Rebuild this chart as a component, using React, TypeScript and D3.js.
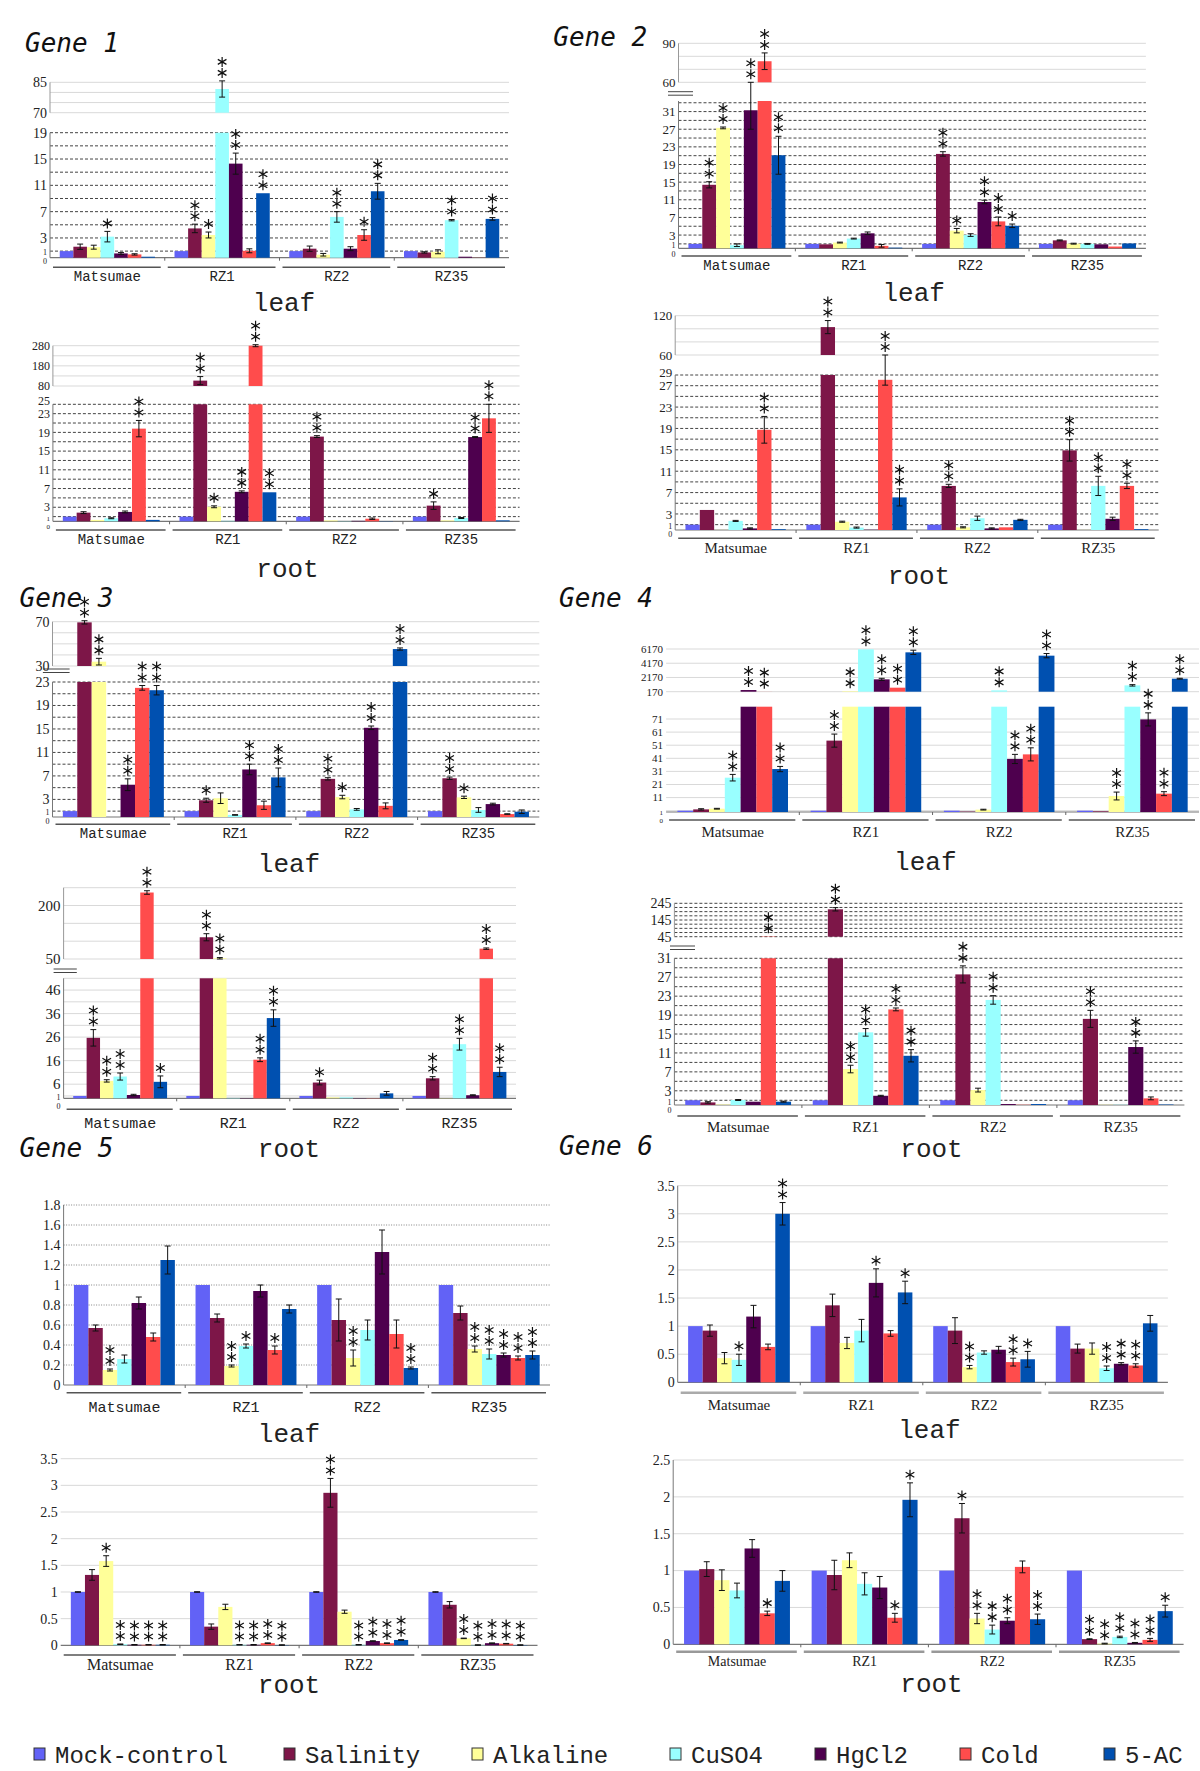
import React from 'react';
import * as d3 from 'd3';

const groups = ['Matsumae', 'RZ1', 'RZ2', 'RZ35'];
const treatments = ['Mock-control', 'Salinity', 'Alkaline', 'CuSO4', 'HgCl2', 'Cold', '5-AC'];
const colors = ['#6262F6', '#7D1648', '#FFFF99', '#99FFFF', '#4E004E', '#FF4C4C', '#0050B0'];

// ---- Gene 1 ----
const g1LeafMean = [
  [1, 1.67, 1.6, 3.2, 0.65, 0.5, 0.15],
  [1, 4.45, 3.45, 81.7, 14.3, 1.05, 9.8],
  [1, 1.37, 0.45, 6.2, 1.37, 3.45, 10.1],
  [1, 0.8, 0.9, 5.7, 0.15, 0.02, 5.9],
];
const g1LeafErr = [
  [0, 0.4, 0.3, 0.8, 0.15, 0.1, 0],
  [0, 0.65, 0.45, 4, 1.6, 0.3, 0],
  [0, 0.4, 0.2, 0.8, 0.3, 0.8, 1.2],
  [0, 0.1, 0.3, 0.1, 0, 0, 0.2],
];
const g1LeafSig = [
  [0, 0, 0, 1, 0, 0, 0],
  [0, 2, 1, 2, 2, 0, 2],
  [0, 0, 0, 2, 0, 1, 2],
  [0, 0, 0, 2, 0, 0, 2],
];
const g1RootMean = [
  [1, 1.85, 0.3, 0.65, 2.0, 19.8, 0.3],
  [1, 106.7, 3.1, 0.1, 6.3, 280, 6.2],
  [1, 18.1, 0.2, 0.05, 0.1, 0.55, 0.05],
  [1, 3.35, 0.2, 0.7, 18.0, 22.0, 0.2],
];
const g1RootErr = [
  [0, 0.2, 0, 0.1, 0.2, 1.75, 0],
  [0, 20, 0.2, 0, 0.2, 5, 0],
  [0, 0.2, 0, 0, 0, 0.15, 0],
  [0, 0.8, 0, 0.1, 0.1, 3, 0],
];
const g1RootSig = [
  [0, 0, 0, 0, 0, 2, 0],
  [0, 2, 1, 0, 2, 2, 2],
  [0, 2, 0, 0, 0, 0, 0],
  [0, 1, 0, 0, 2, 2, 0],
];

// ---- Gene 2 ----
const g2LeafMean = [
  [1, 14.4, 27.3, 0.7, 31.3, 76.2, 21.1],
  [1, 0.9, 1.3, 2.2, 3.4, 0.55, 0.15],
  [1, 21.4, 4.0, 3.0, 10.5, 6.1, 5.1],
  [1, 1.8, 1.05, 1.0, 0.9, 0.4, 1.1],
];
const g2LeafErr = [
  [0, 0.7, 0.2, 0.3, 4.3, 6.4, 4.3],
  [0, 0, 0.1, 0.1, 0.3, 0.3, 0],
  [0, 0.5, 0.5, 0.3, 0.4, 1.0, 0.4],
  [0, 0.1, 0.1, 0.1, 0, 0, 0],
];
const g2LeafSig = [
  [0, 2, 2, 0, 2, 2, 2],
  [0, 0, 0, 0, 0, 0, 0],
  [0, 2, 1, 0, 2, 2, 1],
  [0, 0, 0, 0, 0, 0, 0],
];
const g2RootMean = [
  [1, 3.75, 0.02, 1.7, 0.3, 18.75, 0.15],
  [1, 102.6, 1.55, 0.45, 0.05, 28.1, 6.1],
  [1, 8.25, 0.5, 2.2, 0.3, 0.5, 1.9],
  [1, 14.9, 0.02, 8.25, 2.1, 8.25, 0.15],
];
const g2RootErr = [
  [0, 0, 0, 0.1, 0.1, 2.5, 0],
  [0, 10, 0.1, 0.1, 0, 1.0, 1.6],
  [0, 0.3, 0.1, 0.4, 0.1, 0, 0.1],
  [0, 2, 0, 1.8, 0.3, 0.5, 0],
];
const g2RootSig = [
  [0, 0, 0, 0, 0, 2, 0],
  [0, 2, 0, 0, 0, 2, 2],
  [0, 2, 0, 0, 0, 0, 0],
  [0, 2, 0, 2, 0, 2, 0],
];

// ---- Gene 3 ----
const g3LeafMean = [
  [1, 69.4, 33.9, 0, 5.5, 22.0, 21.6],
  [1, 2.85, 3.2, 0.35, 8.1, 2.0, 6.75],
  [1, 6.5, 3.4, 1.3, 15.2, 1.9, 45.3],
  [1, 6.6, 3.35, 1.2, 2.2, 0.5, 0.9],
];
const g3LeafErr = [
  [0, 1.5, 3, 0, 1.0, 0.4, 0.8],
  [0, 0.35, 0.9, 0.05, 0.9, 0.7, 1.6],
  [0, 0.2, 0.3, 0.15, 0.3, 0.5, 1.0],
  [0, 0.2, 0.2, 0.4, 0.15, 0.05, 0.3],
];
const g3LeafSig = [
  [0, 2, 2, 0, 2, 2, 2],
  [0, 1, 0, 0, 2, 0, 2],
  [0, 2, 1, 0, 2, 0, 2],
  [0, 2, 1, 0, 0, 0, 0],
];
const g3RootMean = [
  [1, 25.7, 7.4, 9.25, 1.4, 236.5, 7.0],
  [1, 111, 52, 0.15, 0.1, 16.4, 34.1],
  [1, 6.7, 0.4, 0.4, 0.1, 0.1, 2.1],
  [1, 8.5, 0.1, 23, 1.3, 79, 11.2],
];
const g3RootErr = [
  [0, 3.5, 0.5, 1.5, 0.3, 5, 2.5],
  [0, 10, 2, 0, 0, 0.8, 3.5],
  [0, 1.0, 0, 0, 0, 0, 0.8],
  [0, 0.7, 0, 2.5, 0.2, 2, 2],
];
const g3RootSig = [
  [0, 2, 2, 2, 0, 2, 1],
  [0, 2, 2, 0, 0, 2, 2],
  [0, 1, 0, 0, 0, 0, 0],
  [0, 2, 0, 2, 0, 2, 2],
];

// ---- Gene 4 ----
const g4LeafMean = [
  [1, 2.0, 2.5, 26.2, 404, 180, 32.8],
  [1, 54.5, 250, 6124, 1905, 733, 5700],
  [1, 0.3, 1.8, 357, 40.5, 44, 5233],
  [1, 0.5, 12.2, 1060, 70.7, 14, 1998],
];
const g4LeafErr = [
  [0, 0.5, 0.3, 2.5, 0, 0, 2],
  [0, 5, 0, 0, 150, 0, 300],
  [0, 0, 0.3, 0, 3.5, 5, 300],
  [0, 0, 3, 100, 5, 1.5, 60],
];
const g4LeafSig = [
  [0, 0, 0, 2, 2, 2, 2],
  [0, 2, 2, 2, 2, 2, 2],
  [0, 0, 0, 2, 2, 2, 2],
  [0, 0, 2, 2, 2, 2, 2],
];
const g4RootMean = [
  [1, 0.55, 0.1, 1.05, 0.7, 47, 0.7],
  [1, 209, 7.6, 15.35, 1.95, 20.2, 10.4],
  [1, 27.6, 3.15, 22.2, 0.2, 0.05, 0.2],
  [1, 18.2, 0.05, 0.05, 12.25, 1.4, 0.1],
];
const g4RootErr = [
  [0, 0.15, 0, 0.1, 0, 0, 0.1],
  [0, 10, 0.8, 0.8, 0.1, 0.3, 1.3],
  [0, 1.8, 0.4, 0.9, 0, 0, 0],
  [0, 1.8, 0, 0, 1.3, 0.3, 0],
];
const g4RootSig = [
  [0, 0, 0, 0, 0, 2, 0],
  [0, 2, 2, 2, 0, 2, 2],
  [0, 2, 0, 2, 0, 0, 0],
  [0, 2, 0, 0, 2, 0, 0],
];

// ---- Gene 5 ----
const g5LeafMean = [
  [1, 0.57, 0.15, 0.26, 0.82, 0.48, 1.25],
  [1, 0.67, 0.19, 0.39, 0.94, 0.35, 0.76],
  [1, 0.65, 0.27, 0.55, 1.33, 0.51, 0.17],
  [1, 0.72, 0.36, 0.31, 0.3, 0.27, 0.3],
];
const g5LeafErr = [
  [0, 0.03, 0.01, 0.04, 0.06, 0.04, 0.14],
  [0, 0.04, 0.01, 0.02, 0.06, 0.04, 0.04],
  [0, 0.21, 0.08, 0.1, 0.22, 0.14, 0.01],
  [0, 0.07, 0.03, 0.05, 0.02, 0.02, 0.04],
];
const g5LeafSig = [
  [0, 0, 2, 0, 0, 0, 0],
  [0, 0, 2, 1, 0, 1, 0],
  [0, 0, 2, 0, 0, 0, 2],
  [0, 0, 2, 2, 2, 2, 2],
];
const g5RootMean = [
  [1, 1.32, 1.58, 0.02, 0.01, 0.01, 0.01],
  [1, 0.35, 0.72, 0.01, 0.01, 0.04, 0.005],
  [1, 2.86, 0.63, 0.01, 0.08, 0.04, 0.1],
  [1, 0.76, 0.13, 0.005, 0.04, 0.03, 0.005],
];
const g5RootErr = [
  [0.005, 0.1, 0.1, 0.005, 0.005, 0.005, 0.005],
  [0.005, 0.05, 0.05, 0.005, 0.005, 0.005, 0.005],
  [0.005, 0.27, 0.03, 0.005, 0.005, 0.005, 0.005],
  [0.005, 0.06, 0.005, 0.005, 0.005, 0.005, 0.005],
];
const g5RootSig = [
  [0, 0, 1, 2, 2, 2, 2],
  [0, 0, 0, 2, 2, 2, 2],
  [0, 2, 0, 2, 2, 2, 2],
  [0, 0, 2, 2, 2, 2, 2],
];

// ---- Gene 6 ----
const g6LeafMean = [
  [1, 0.92, 0.43, 0.4, 1.17, 0.63, 3.0],
  [1, 1.37, 0.7, 0.92, 1.77, 0.87, 1.6],
  [1, 0.92, 0.27, 0.53, 0.58, 0.36, 0.41],
  [1, 0.6, 0.6, 0.25, 0.33, 0.3, 1.05],
];
const g6LeafErr = [
  [0, 0.1, 0.1, 0.1, 0.2, 0.05, 0.2],
  [0, 0.2, 0.1, 0.2, 0.25, 0.05, 0.2],
  [0, 0.23, 0.03, 0.03, 0.06, 0.07, 0.14],
  [0, 0.08, 0.1, 0.04, 0.02, 0.03, 0.14],
];
const g6LeafSig = [
  [0, 0, 0, 1, 0, 0, 2],
  [0, 0, 0, 0, 1, 0, 1],
  [0, 0, 2, 0, 0, 2, 1],
  [0, 0, 0, 2, 2, 2, 0],
];
const g6RootMean = [
  [1, 1.02, 0.87, 0.73, 1.3, 0.42, 0.86],
  [1, 0.94, 1.14, 0.82, 0.77, 0.36, 1.96],
  [1, 1.71, 0.35, 0.2, 0.32, 1.05, 0.34],
  [1, 0.07, 0.01, 0.1, 0.02, 0.06, 0.45],
];
const g6RootErr = [
  [0, 0.1, 0.14, 0.1, 0.12, 0.03, 0.14],
  [0, 0.2, 0.1, 0.15, 0.15, 0.06, 0.23],
  [0, 0.2, 0.07, 0.06, 0.04, 0.08, 0.07],
  [0, 0.005, 0.005, 0.01, 0.005, 0.02, 0.08],
];
const g6RootSig = [
  [0, 0, 0, 0, 0, 1, 0],
  [0, 0, 0, 0, 0, 1, 1],
  [0, 1, 2, 2, 2, 0, 2],
  [0, 2, 2, 2, 2, 2, 1],
];

// ---- axis ticks / grid values ----
const g1LeafTicks = [0, 1, 3, 7, 11, 15, 19];
const g1LeafGrid = [1, 3, 5, 7, 9, 11, 13, 15, 17, 19];
const g1LeafUpTicks = [70, 85];
const g1LeafUpGrid = [70, 75, 80, 85];
const g1RootTicks = [0, 1, 3, 7, 11, 15, 19, 23, 25];
const g1RootGrid = [1, 3, 5, 7, 9, 11, 13, 15, 17, 19, 21, 23, 25];
const g1RootUpTicks = [80, 180, 280];
const g1RootUpGrid = [80, 130, 180, 230, 280];
const g2LeafTicks = [0, 1, 3, 7, 11, 15, 19, 23, 27, 31];
const g2LeafGrid = [1, 3, 5, 7, 9, 11, 13, 15, 17, 19, 21, 23, 25, 27, 29, 31, 33];
const g2LeafUpTicks = [60, 90];
const g2LeafUpGrid = [60, 70, 80, 90];
const g2RootTicks = [0, 1, 3, 7, 11, 15, 19, 23, 27, 29];
const g2RootGrid = [1, 3, 5, 7, 9, 11, 13, 15, 17, 19, 21, 23, 25, 27, 29];
const g2RootUpTicks = [60, 120];
const g2RootUpGrid = [60, 80, 100, 120];
const g3LeafTicks = [0, 1, 3, 7, 11, 15, 19, 23];
const g3LeafGrid = [1, 3, 5, 7, 9, 11, 13, 15, 17, 19, 21, 23];
const g3LeafUpTicks = [30, 70];
const g3LeafUpGrid = [30, 40, 50, 60, 70];
const g3RootTicks = [0, 1, 6, 16, 26, 36, 46];
const g3RootGrid = [1, 6, 11, 16, 21, 26, 31, 36, 41, 46, 51];
const g3RootUpTicks = [50, 200];
const g3RootUpGrid = [50, 100, 150, 200, 250];
const g4LeafTicks = [0, 1, 11, 21, 31, 41, 51, 61, 71];
const g4LeafGrid = [1, 11, 21, 31, 41, 51, 61, 71];
const g4LeafUpTicks = [170, 2170, 4170, 6170];
const g4LeafUpGrid = [170, 2170, 4170, 6170];
const g4RootTicks = [0, 1, 3, 7, 11, 15, 19, 23, 27, 31];
const g4RootGrid = [1, 3, 5, 7, 9, 11, 13, 15, 17, 19, 21, 23, 25, 27, 29, 31];
const g4RootUpTicks = [45, 145, 245];
const g4RootUpGrid = [45, 70, 95, 120, 145, 170, 195, 220, 245];
const g5LeafTicks = [0, 0.2, 0.4, 0.6, 0.8, 1, 1.2, 1.4, 1.6, 1.8];
const g5LeafGrid = [0.2, 0.4, 0.6, 0.8, 1, 1.2, 1.4, 1.6, 1.8];
const g5RootTicks = [0, 0.5, 1, 1.5, 2, 2.5, 3, 3.5];
const g5RootGrid = [0.5, 1, 1.5, 2, 2.5, 3, 3.5];
const g6LeafTicks = [0, 0.5, 1, 1.5, 2, 2.5, 3, 3.5];
const g6LeafGrid = [0.5, 1, 1.5, 2, 2.5, 3, 3.5];
const g6RootTicks = [0, 0.5, 1, 1.5, 2, 2.5];
const g6RootGrid = [0.5, 1, 1.5, 2, 2.5];

const MONO = 'Liberation Mono, DejaVu Sans Mono, monospace';
const SERIF = 'Liberation Serif, Times New Roman, serif';

type Upper = { min: number; max: number; y0: number; y1: number; ticks: number[]; grid: number[]; style: string };
type PanelCfg = {
  mean: number[][]; err: number[][]; sig: number[][];
  x0: number; x1: number; y0: number; yTop: number; lowMax: number;
  ticks: number[]; grid: number[]; style: string;
  upper?: Upper;
  brk?: [number, number, number];
  axis: boolean;
  underY: number; labelY: number; labelFont: string; labelSize: number;
  tickSize: number; smallLow?: boolean;
  sub: string; subX: number; subY: number;
  underColor?: string; underWidth?: number;
};

const panels: PanelCfg[] = [
  { mean: g1LeafMean, err: g1LeafErr, sig: g1LeafSig, x0: 50, x1: 509, y0: 257.7, yTop: 132.7, lowMax: 19,
    ticks: g1LeafTicks, grid: g1LeafGrid, style: 'dash',
    upper: { min: 70, max: 85, y0: 112.7, y1: 82.3, ticks: g1LeafUpTicks, grid: g1LeafUpGrid, style: 'solid' },
    axis: true, underY: 267.3, labelY: 280.7, labelFont: MONO, labelSize: 14, tickSize: 14, smallLow: true,
    sub: 'leaf', subX: 284, subY: 310.7 },
  { mean: g1RootMean, err: g1RootErr, sig: g1RootSig, x0: 52.9, x1: 519.6, y0: 521.3, yTop: 404.3, lowMax: 25,
    ticks: g1RootTicks, grid: g1RootGrid, style: 'dash',
    upper: { min: 80, max: 280, y0: 386, y1: 345.7, ticks: g1RootUpTicks, grid: g1RootUpGrid, style: 'solid' },
    axis: true, underY: 530, labelY: 544, labelFont: MONO, labelSize: 14, tickSize: 12, smallLow: true,
    sub: 'root', subX: 287.5, subY: 576.7 },
  { mean: g2LeafMean, err: g2LeafErr, sig: g2LeafSig, x0: 678.5, x1: 1145.9, y0: 248.3, yTop: 101, lowMax: 33.4,
    ticks: g2LeafTicks, grid: g2LeafGrid, style: 'dash',
    upper: { min: 60, max: 90, y0: 82.3, y1: 43.3, ticks: g2LeafUpTicks, grid: g2LeafUpGrid, style: 'solid' },
    brk: [668, 693, 91.7], axis: true, underY: 256, labelY: 270, labelFont: MONO, labelSize: 14, tickSize: 13, smallLow: true,
    sub: 'leaf', subX: 913.7, subY: 300.7 },
  { mean: g2RootMean, err: g2RootErr, sig: g2RootSig, x0: 675.2, x1: 1158.7, y0: 530, yTop: 375, lowMax: 29,
    ticks: g2RootTicks, grid: g2RootGrid, style: 'dash',
    upper: { min: 60, max: 120, y0: 355, y1: 315.7, ticks: g2RootUpTicks, grid: g2RootUpGrid, style: 'solid' },
    axis: true, underY: 538.3, labelY: 553.3, labelFont: SERIF, labelSize: 15, tickSize: 13, smallLow: true,
    sub: 'root', subX: 919, subY: 584.3 },
  { mean: g3LeafMean, err: g3LeafErr, sig: g3LeafSig, x0: 52.5, x1: 539.3, y0: 817, yTop: 682, lowMax: 23,
    ticks: g3LeafTicks, grid: g3LeafGrid, style: 'dash',
    upper: { min: 30, max: 70, y0: 666, y1: 621.7, ticks: g3LeafUpTicks, grid: g3LeafUpGrid, style: 'solid' },
    brk: [42.9, 69.6, 669], axis: true, underY: 824.3, labelY: 838.3, labelFont: MONO, labelSize: 14, tickSize: 14, smallLow: true,
    sub: 'leaf', subX: 289, subY: 871.7 },
  { mean: g3RootMean, err: g3RootErr, sig: g3RootSig, x0: 63.6, x1: 516, y0: 1098.3, yTop: 978.3, lowMax: 51,
    ticks: g3RootTicks, grid: g3RootGrid, style: 'solid',
    upper: { min: 50, max: 250, y0: 959, y1: 887.7, ticks: g3RootUpTicks, grid: g3RootUpGrid, style: 'solid' },
    brk: [53.6, 76.8, 969], axis: true, underY: 1109.3, labelY: 1128.3, labelFont: MONO, labelSize: 15, tickSize: 15, smallLow: true,
    sub: 'root', subX: 289, subY: 1156.7 },
  { mean: g4LeafMean, err: g4LeafErr, sig: g4LeafSig, x0: 666.1, x1: 1199, y0: 812, yTop: 706.7, lowMax: 80.4,
    ticks: g4LeafTicks, grid: g4LeafGrid, style: 'solid',
    upper: { min: 170, max: 6170, y0: 691.7, y1: 649, ticks: g4LeafUpTicks, grid: g4LeafUpGrid, style: 'solid' },
    axis: false, underY: 820, labelY: 836.7, labelFont: SERIF, labelSize: 15, tickSize: 11, smallLow: true,
    sub: 'leaf', subX: 925.3, subY: 870 },
  { mean: g4RootMean, err: g4RootErr, sig: g4RootSig, x0: 674.4, x1: 1184.4, y0: 1105, yTop: 958.3, lowMax: 31,
    ticks: g4RootTicks, grid: g4RootGrid, style: 'dash',
    upper: { min: 45, max: 245, y0: 936.7, y1: 903.3, ticks: g4RootUpTicks, grid: g4RootUpGrid, style: 'dash' },
    brk: [670, 695, 946], axis: true, underY: 1116, labelY: 1131.7, labelFont: SERIF, labelSize: 15, tickSize: 14, smallLow: true,
    sub: 'root', subX: 931.5, subY: 1156.7 },
  { mean: g5LeafMean, err: g5LeafErr, sig: g5LeafSig, x0: 63.6, x1: 550, y0: 1385, yTop: 1205, lowMax: 1.8,
    ticks: g5LeafTicks, grid: g5LeafGrid, style: 'dot',
    axis: true, underY: 1392.7, labelY: 1411.7, labelFont: MONO, labelSize: 15, tickSize: 14, sub: 'leaf', subX: 289, subY: 1441.7 },
  { mean: g5RootMean, err: g5RootErr, sig: g5RootSig, x0: 60.7, x1: 537.5, y0: 1645.3, yTop: 1458.7, lowMax: 3.5,
    ticks: g5RootTicks, grid: g5RootGrid, style: 'solid',
    axis: false, underY: 1655, labelY: 1670, labelFont: SERIF, labelSize: 16, tickSize: 14, sub: 'root', subX: 289, subY: 1693.3 },
  { mean: g6LeafMean, err: g6LeafErr, sig: g6LeafSig, x0: 677.7, x1: 1167.9, y0: 1382.3, yTop: 1185.7, lowMax: 3.5,
    ticks: g6LeafTicks, grid: g6LeafGrid, style: 'solid',
    axis: true, underY: 1392.7, labelY: 1410, labelFont: SERIF, labelSize: 15, tickSize: 14, sub: 'leaf', subX: 929.4, subY: 1438.3,
    underColor: '#aaa', underWidth: 2.5 },
  { mean: g6RootMean, err: g6RootErr, sig: g6RootSig, x0: 673.2, x1: 1183.6, y0: 1644.3, yTop: 1460, lowMax: 2.5,
    ticks: g6RootTicks, grid: g6RootGrid, style: 'solid',
    axis: true, underY: 1651.7, labelY: 1665.7, labelFont: SERIF, labelSize: 14, tickSize: 14, sub: 'root', subX: 931.5, subY: 1692.3,
    underColor: '#999', underWidth: 2.5 },
];

const titles = ['Gene 1', 'Gene 2', 'Gene 3', 'Gene 4', 'Gene 5', 'Gene 6'];
const titlePos = [[25, 51.7], [553.3, 46], [19.6, 606.7], [559.1, 606.7], [19.6, 1157], [559.1, 1155]];
const legendX = [34, 284, 472, 670, 815, 960, 1104];

const gridProps = (style: string) =>
  style === 'dash' ? { stroke: '#444', strokeDasharray: '3,2', strokeWidth: 1 }
  : style === 'dot' ? { stroke: '#666', strokeDasharray: '1,1.5', strokeWidth: 0.8 }
  : { stroke: '#d9d9d9', strokeWidth: 1 };

function Star({ x, y }: { x: number; y: number }) {
  const r = 5;
  const d = [0, 60, 120].map(a => {
    const t = (a * Math.PI) / 180;
    const dx = r * Math.sin(t), dy = r * Math.cos(t);
    return `M${x - dx},${y - dy}L${x + dx},${y + dy}`;
  }).join('');
  return <path d={d} stroke="#111" strokeWidth={1.2} fill="none" />;
}

function Panel({ p }: { p: PanelCfg }) {
  const gx = d3.scaleBand<string>().domain(groups).range([p.x0, p.x1]);
  const bw = gx.bandwidth();
  const span = bw * 0.83;
  const bx = d3.scaleBand<string>().domain(treatments).range([(bw - span) / 2, (bw + span) / 2]);
  const w = bx.bandwidth();
  const lo = d3.scaleLinear().domain([0, p.lowMax]).range([p.y0, p.yTop]);
  const U = p.upper;
  const up = U ? d3.scaleLinear().domain([U.min, U.max]).range([U.y0, U.y1]) : null;
  const yOf = (v: number) =>
    up && U && v > p.lowMax ? up(Math.max(v, U.min)) : lo(Math.max(0, Math.min(v, p.lowMax)));
  const small = (v: number) => p.smallLow && (v === 0 || v === 1);
  const tickFont = (v: number) => (small(v) ? Math.min(8, Math.round(p.tickSize * 0.62)) : p.tickSize);
  // the tiny "0" label drops below the axis when it would sit on top of "1"
  const gap01 = lo(0) - lo(1);
  const drop = p.smallLow ? Math.max(1.5, 10 - gap01) : 0;
  // the top label of the lower segment is lifted when it crowds the one below it
  const n = p.ticks.length;
  const topGap = n > 1 ? lo(p.ticks[n - 2]) - lo(p.ticks[n - 1]) : 99;
  const lift = topGap < 13 ? 13 - topGap : 0;
  const tickShift = (v: number) =>
    v === 0 ? drop : p.smallLow && v === 1 ? 1.5 : v === p.ticks[n - 1] ? -lift : 0;

  return (
    <g>
      {p.grid.map(v => (
        <line key={'g' + v} x1={p.x0} x2={p.x1} y1={lo(v)} y2={lo(v)} {...gridProps(p.style)} />
      ))}
      {U && up && U.grid.map(v => (
        <line key={'ug' + v} x1={p.x0} x2={p.x1} y1={up(v)} y2={up(v)} {...gridProps(U.style)} />
      ))}
      {p.axis && <line x1={p.x0} x2={p.x0} y1={p.y0} y2={p.yTop} stroke="#777" />}
      {p.axis && U && up && <line x1={p.x0} x2={p.x0} y1={U.y0} y2={U.y1} stroke="#999" />}
      <line x1={p.x0} x2={p.x1} y1={p.y0} y2={p.y0} stroke="#777" strokeWidth={1.2} />
      {groups.slice(1).map(g => (
        <line key={'t' + g} x1={gx(g)!} x2={gx(g)!} y1={p.y0} y2={p.y0 + 3} stroke="#666" />
      ))}
      {p.brk && (
        <g stroke="#444" strokeWidth={1}>
          <line x1={p.brk[0]} x2={p.brk[1]} y1={p.brk[2]} y2={p.brk[2]} />
          <line x1={p.brk[0]} x2={p.brk[1]} y1={p.brk[2] + 3.5} y2={p.brk[2] + 3.5} />
        </g>
      )}
      {p.ticks.map(v => (
        <text key={'tl' + v} x={p.x0 - 3} y={lo(v) + tickShift(v)} dy="0.35em" textAnchor="end" fontFamily={SERIF}
          fontSize={tickFont(v)} fill="#222">{v}</text>
      ))}
      {U && up && U.ticks.map(v => (
        <text key={'utl' + v} x={p.x0 - 3} y={up(v)} dy="0.35em" textAnchor="end" fontFamily={SERIF}
          fontSize={p.tickSize} fill="#222">{v}</text>
      ))}
      {groups.map((g, gi) => (
        <g key={g}>
          {treatments.map((t, ti) => {
            const v = p.mean[gi][ti];
            const e = p.err[gi][ti];
            const ns = p.sig[gi][ti];
            const x = gx(g)! + bx(t)!;
            const cx = x + w / 2;
            const parts: [number, number][] = [];
            if (up && U && v > p.lowMax) {
              parts.push([p.yTop, p.y0]);
              if (v > U.min) parts.push([up(v), U.y0]);
            } else {
              parts.push([lo(v), p.y0]);
            }
            let top = yOf(v);
            let errEl = null;
            if (e > 0) {
              const hi = yOf(v + e);
              const lw = up && U && v > p.lowMax ? up(Math.max(v - e, U.min)) : yOf(v - e);
              top = Math.min(top, hi);
              const c = Math.min(3, w * 0.22);
              errEl = (
                <g stroke="#111" strokeWidth={1}>
                  <line x1={cx} x2={cx} y1={hi} y2={lw} />
                  <line x1={cx - c} x2={cx + c} y1={hi} y2={hi} />
                  <line x1={cx - c} x2={cx + c} y1={lw} y2={lw} />
                </g>
              );
            }
            return (
              <g key={t}>
                {parts.map(([a, b], k) => (
                  <rect key={k} x={x} y={a} width={w} height={Math.max(0, b - a)} fill={colors[ti]} />
                ))}
                {errEl}
                {d3.range(ns).map(k => <Star key={k} x={cx} y={top - 8 - k * 11} />)}
              </g>
            );
          })}
          <line x1={gx(g)! + 3} x2={gx(g)! + bw - 4} y1={p.underY} y2={p.underY}
            stroke={p.underColor || '#555'} strokeWidth={p.underWidth || 1.5} />
          <text x={gx(g)! + bw / 2} y={p.labelY} textAnchor="middle" fontFamily={p.labelFont}
            fontSize={p.labelSize} fill="#222">{g}</text>
        </g>
      ))}
      <text x={p.subX} y={p.subY} textAnchor="middle" fontFamily={MONO} fontSize={26} fill="#222">{p.sub}</text>
    </g>
  );
}

export default function App() {
  return (
    <svg width={1200} height={1771} style={{ position: 'absolute', left: 0, top: 0, background: '#fff' }}>
      <rect width={1200} height={1771} fill="#fff" />
      {panels.map((p, i) => <Panel key={i} p={p} />)}
      {titles.map((t, i) => (
        <text key={t} x={titlePos[i][0]} y={titlePos[i][1]} fontFamily="DejaVu Sans Mono, monospace"
          fontStyle="italic" fontSize={26} fill="#111">{t}</text>
      ))}
      {treatments.map((t, i) => (
        <g key={t}>
          <rect x={legendX[i]} y={1748} width={11} height={12} fill={colors[i]} stroke="#333" strokeWidth={1} />
          <text x={legendX[i] + 21} y={1763} fontFamily={MONO} fontSize={24} fill="#222">{t}</text>
        </g>
      ))}
    </svg>
  );
}
